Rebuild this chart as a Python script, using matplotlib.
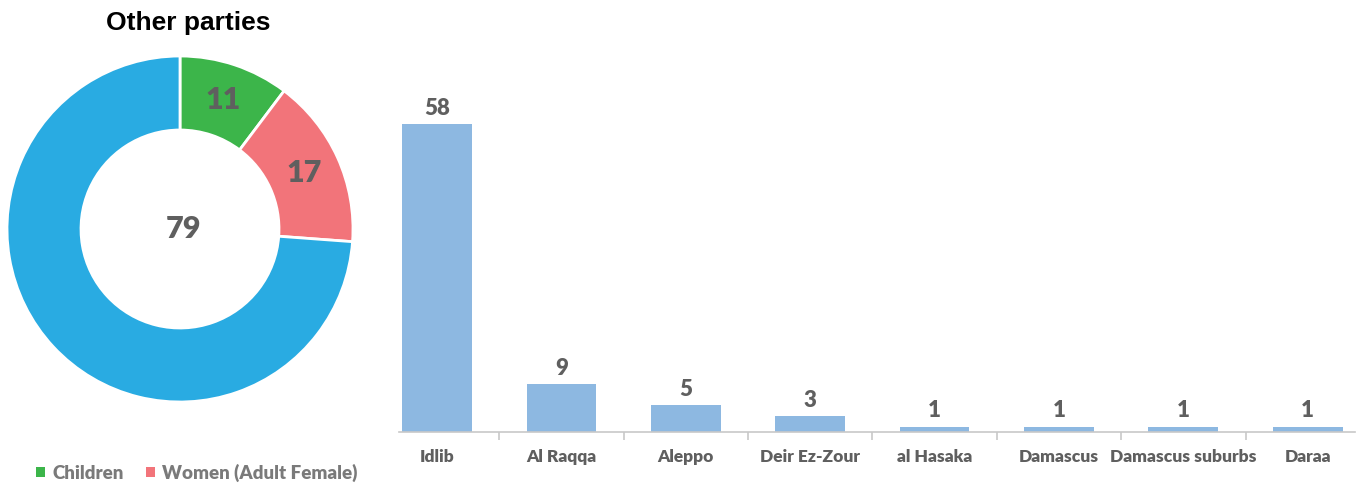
import numpy as np
import matplotlib.pyplot as plt
from matplotlib.patches import Patch

# Data
pie_labels = ["Children", "Women (Adult Female)", "Men"]
pie_values = [11, 17, 79]
pie_colors = ["#3cb54a", "#f2747a", "#29abe2"]

governorates = ["Idlib", "Al Raqqa", "Aleppo", "Deir Ez-Zour", "al Hasaka",
                "Damascus", "Damascus suburbs", "Daraa"]
victims = [58, 9, 5, 3, 1, 1, 1, 1]

label_gray = "#5f5f5f"
plt.rcParams['font.family'] = ['Lato', 'DejaVu Sans']

fig = plt.figure(figsize=(13.64, 4.84), dpi=100)

# Donut
ax1 = fig.add_axes([7/1364, 1 - 402/484, 346/1364, 346/484])
wedges, _ = ax1.pie(pie_values, colors=pie_colors, startangle=90, counterclock=False,
                    radius=1.0, wedgeprops=dict(width=(173 - 99) / 173, edgecolor='white', linewidth=2))
ax1.set_aspect('equal')
ax1.set_xlim(-1, 1)
ax1.set_ylim(-1, 1)
total = sum(pie_values)
start = 0.0
r_mid = (1 + 99 / 173) / 2
for i, v in enumerate(pie_values):
    mid = start + v / 2
    start += v
    if i == len(pie_values) - 1:
        ax1.text(0.02, 0, str(v), ha='center', va='center', fontsize=22,
                 fontweight='heavy', color=label_gray)
        continue
    ang = np.deg2rad(90 - 360 * mid / total)
    ax1.text(r_mid * np.cos(ang), r_mid * np.sin(ang), str(v), ha='center', va='center',
             fontsize=22, fontweight='heavy', color=label_gray)

fig.text(188/1364, 1 - 23/484, "Other parties", ha='center', va='center',
         fontsize=19, fontweight='bold', color='black', family=['Liberation Sans', 'DejaVu Sans'])

handles = [Patch(facecolor=pie_colors[0], label=pie_labels[0]),
           Patch(facecolor=pie_colors[1], label=pie_labels[1])]
leg = fig.legend(handles=handles, loc='center', bbox_to_anchor=(197/1364, 1 - 473/484),
                 ncol=2, frameon=False, handlelength=0.45, handleheight=0.45, handletextpad=0.4,
                 columnspacing=1.2, prop={'weight': 'heavy', 'size': 13.5})
for t in leg.get_texts():
    t.set_color("#7a7a7a")

# Bars
ax2 = fig.add_axes([399/1364, 1 - 432/484, (1355 - 399)/1364, (432 - 87)/484])
x = np.arange(len(governorates))
bars = ax2.bar(x, victims, width=0.56, color="#8db8e1")
for xi, v in zip(x, victims):
    ax2.text(xi, v + 1.0, str(v), ha='center', va='bottom', fontsize=16,
             fontweight='heavy', color=label_gray)
ax2.set_xlim(-0.305, 7.38)
ax2.set_ylim(0, 65)
for s in ['top', 'right', 'left']:
    ax2.spines[s].set_visible(False)
ax2.spines['bottom'].set_color('#c8c8c8')
ax2.spines['bottom'].set_linewidth(1.2)
ax2.set_yticks([])
ax2.set_xticks(x)
ax2.set_xticklabels(governorates, fontsize=12.5, fontweight='heavy', color=label_gray)
ax2.tick_params(axis='x', length=0, pad=12)
ax2.set_xticks(x[:-1] + 0.5, minor=True)
ax2.tick_params(axis='x', which='minor', length=6, color='#c8c8c8', width=1.2)

fig.savefig("out.png", dpi=100)
